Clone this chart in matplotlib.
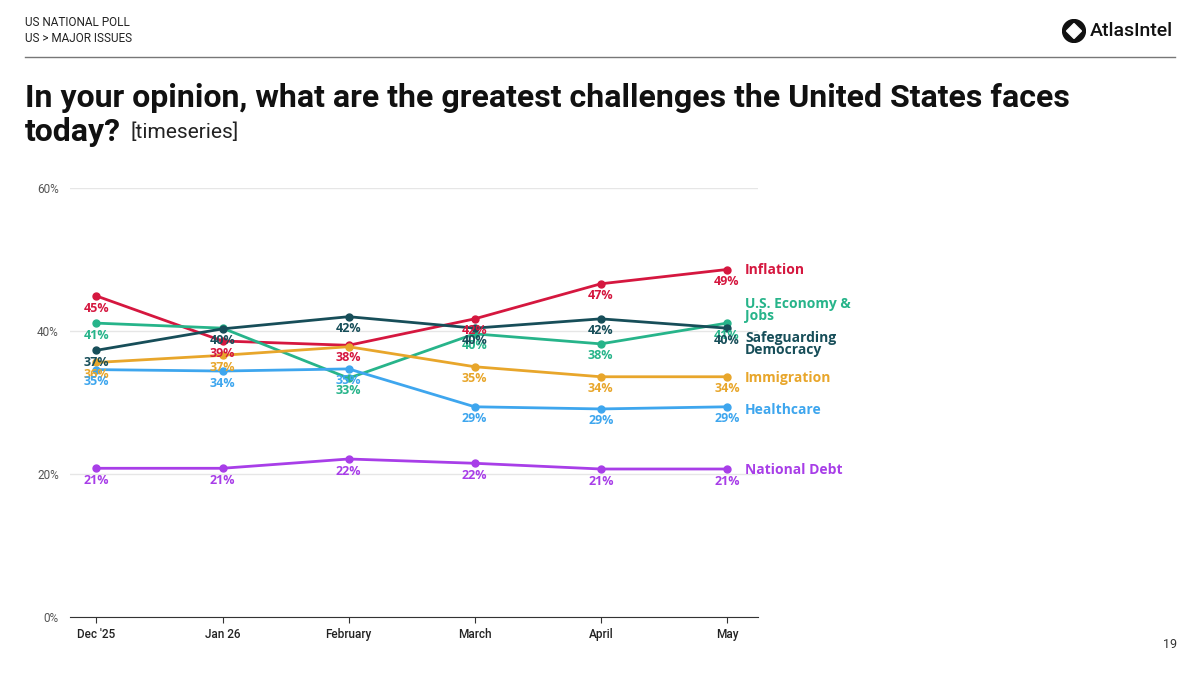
import matplotlib.pyplot as plt
from matplotlib.patches import Circle, Polygon

# data
months = ["Dec '25", "Jan 26", "February", "March", "April", "May"]
inflation = [44.9, 38.6, 38.0, 41.7, 46.6, 48.6]
economy = [41.1, 40.4, 33.4, 39.6, 38.2, 41.1]
democracy = [37.3, 40.3, 42.0, 40.4, 41.7, 40.4]
immigration = [35.6, 36.6, 37.8, 35.0, 33.6, 33.6]
healthcare = [34.6, 34.4, 34.7, 29.4, 29.1, 29.4]
national_debt = [20.8, 20.8, 22.1, 21.5, 20.7, 20.7]

series_names = ["Inflation", "U.S. Economy &\nJobs", "Safeguarding\nDemocracy",
                "Immigration", "Healthcare", "National Debt"]
series_values = [inflation, economy, democracy, immigration, healthcare, national_debt]
colors = ["#d5173f", "#27b48a", "#174e59", "#e8a62b", "#3ea6ee", "#a83ee8"]
# end-label heights (layout only, nudged to avoid overlap)
end_label_y = [48.6, 42.9, 38.2, 33.4, 29.0, 20.5]
# labels the original hides because they overlap
hidden = {(1, 1), (3, 2)}

plt.rcParams['font.family'] = ['Roboto', 'DejaVu Sans']

fig = plt.figure(figsize=(12, 6.75), dpi=100)
ax = fig.add_axes([0.0583, 0.0859, 0.5737, 0.6356])

x = list(range(len(months)))
for i, (name, vals, col) in enumerate(zip(series_names, series_values, colors)):
    ax.plot(x, vals, color=col, lw=2, marker='o', ms=5, zorder=3, clip_on=False)
    for j, v in enumerate(vals):
        if (i, j) in hidden:
            continue
        ax.annotate(f"{round(v)}%", (j, v), xytext=(0, -4), textcoords='offset points',
                    ha='center', va='top', fontsize=9, fontweight='bold', color=col,
                    family=['Open Sans', 'DejaVu Sans'], zorder=4)
    ax.annotate(name, (x[-1], end_label_y[i]), xytext=(13, 0), textcoords='offset points',
                ha='left', va='center', fontsize=10, fontweight='bold', color=col,
                linespacing=0.85, family=['Open Sans', 'DejaVu Sans'], annotation_clip=False)

ax.set_xlim(-0.21, 5.25)
ax.set_ylim(0, 60)
ax.set_yticks([0, 20, 40, 60])
ax.set_yticklabels(["0%", "20%", "40%", "60%"])
ax.set_xticks(x)
ax.set_xticklabels(months, fontsize=8.5, color='#222222', fontweight='medium')
ax.grid(axis='y', color='#e6e6e6', lw=1)
ax.set_axisbelow(True)
for s in ['top', 'right', 'left']:
    ax.spines[s].set_visible(False)
ax.spines['bottom'].set_color('#333333')
ax.tick_params(axis='y', length=0, labelsize=8.5, labelcolor='#555555', pad=8)
ax.tick_params(axis='x', length=4, color='#333333', pad=4)

# header
fig.text(25 / 1200, 1 - 22 / 675, "US NATIONAL POLL", fontsize=8.5, va='center', color='#222222')
fig.text(25 / 1200, 1 - 39 / 675, "US > MAJOR ISSUES", fontsize=8.5, va='center', color='#222222')
fig.add_artist(plt.Line2D([25 / 1200, 1175 / 1200], [1 - 57 / 675] * 2, color='#777777', lw=1))
fig.text(1090 / 1200, 1 - 31 / 675, "AtlasIntel", fontsize=14, va='center', color='#111111',
         fontweight='medium')
logo = fig.add_axes([1062 / 1200, 1 - 43 / 675, 24 / 1200, 24 / 675])
logo.set_xlim(-1, 1)
logo.set_ylim(-1, 1)
logo.set_aspect('equal')
logo.axis('off')
logo.add_patch(Circle((0, 0), 0.95, color='#111111'))
logo.add_patch(Polygon([(0, 0.62), (0.62, 0), (0, -0.62), (-0.62, 0)], color='white'))

# title
fig.text(25 / 1200, 1 - 98 / 675, "In your opinion, what are the greatest challenges the United States faces",
         fontsize=23, fontweight='bold', va='center', color='#111111')
fig.text(25 / 1200, 1 - 132 / 675, "today?", fontsize=23, fontweight='bold', va='center', color='#111111')
fig.text(131 / 1200, 1 - 132 / 675, "[timeseries]", fontsize=15, va='center', color='#222222')

fig.text(1170 / 1200, 1 - 645 / 675, "19", fontsize=9, ha='center', va='center', color='#333333')

fig.savefig("out.png", dpi=100)
